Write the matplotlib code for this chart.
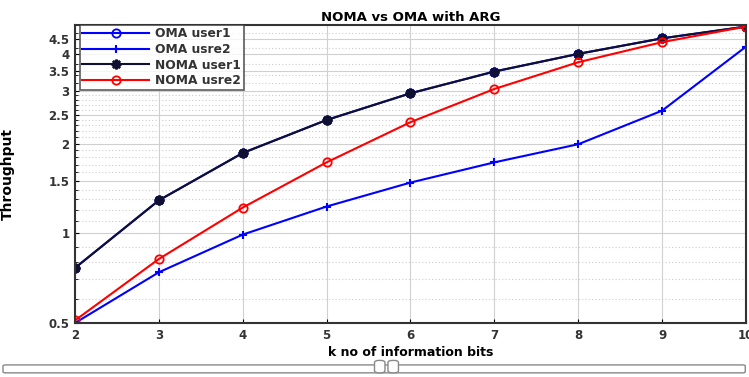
import matplotlib
matplotlib.use("Agg")
import matplotlib.pyplot as plt
import numpy as np
from matplotlib.patches import FancyBboxPatch
from matplotlib.ticker import FixedLocator, NullFormatter, FixedFormatter

k = [2, 3, 4, 5, 6, 7, 8, 9, 10]
oma_user1 = [0.765, 1.29, 1.86, 2.40, 2.95, 3.49, 4.00, 4.51, 4.94]
oma_user2 = [0.50, 0.74, 0.99, 1.23, 1.48, 1.73, 1.99, 2.58, 4.23]
noma_user1 = [0.765, 1.29, 1.86, 2.40, 2.95, 3.49, 4.00, 4.51, 4.94]
noma_user2 = [0.51, 0.82, 1.22, 1.73, 2.36, 3.05, 3.75, 4.38, 4.94]
labels = ["OMA user1", "OMA usre2", "NOMA user1", "NOMA usre2"]
yticks = [0.5, 1, 1.5, 2, 2.5, 3, 3.5, 4, 4.5]
ytick_labels = ["0.5", "1", "1.5", "2", "2.5", "3", "3.5", "4", "4.5"]
yminor = [0.6, 0.7, 0.8, 0.9, 1.1, 1.2, 1.3, 1.4, 1.6, 1.7, 1.8, 1.9,
          2.1, 2.2, 2.3, 2.4, 2.6, 2.7, 2.8, 2.9, 3.2, 3.4, 3.7, 4.2, 4.7]

plt.rcParams['font.family'] = ['DejaVu Sans']
fig = plt.figure(figsize=(7.49, 3.77), dpi=100)
ax = fig.add_axes([0.1001, 0.1432, 0.8959, 0.7905])

ax.plot(k, oma_user1, color='blue', lw=1.5, marker='o', ms=6, mfc='none', mew=1.3, label=labels[0])
ax.plot(k, oma_user2, color='blue', lw=1.5, marker='+', ms=6, mew=1.5, label=labels[1])
ax.plot(k, noma_user1, color='#101030', lw=1.5, marker=(8, 2, 0), ms=7, mew=1.8, label=labels[2])
ax.plot(k, noma_user2, color='red', lw=1.5, marker='o', ms=6, mfc='none', mew=1.3, label=labels[3])

ax.set_yscale('log')
ax.set_ylim(0.5, 5)
ax.set_xlim(2, 10)
ax.set_xticks(k)
ax.yaxis.set_major_locator(FixedLocator(yticks))
ax.yaxis.set_major_formatter(FixedFormatter(ytick_labels))
ax.yaxis.set_minor_locator(FixedLocator(yminor))
ax.yaxis.set_minor_formatter(NullFormatter())

ax.grid(True, which='major', color='#d0d0d0', lw=0.8, ls='-')
ax.grid(True, which='minor', axis='y', color='#cccccc', lw=0.8, ls=(0, (1, 2)))
ax.set_axisbelow(True)
for s in ax.spines.values():
    s.set_linewidth(1.5)
    s.set_color('#333333')
ax.tick_params(axis='both', which='major', labelsize=8.5, direction='in', length=3, pad=4)
ax.tick_params(axis='y', which='minor', direction='in', length=2)
for lab in ax.get_xticklabels() + ax.get_yticklabels():
    lab.set_fontweight('bold')
    lab.set_color('#333333')

ax.set_title("NOMA vs OMA with ARG", fontsize=9.5, fontweight='bold', pad=3)
ax.set_xlabel("k no of information bits", fontsize=9, fontweight='bold', labelpad=3)
ax.set_ylabel("Throughput", fontsize=10, fontweight='bold',
              family=['Liberation Sans Narrow', 'DejaVu Sans'], labelpad=24)

leg = ax.legend(loc='upper left', fontsize=8.8, frameon=True, fancybox=False,
                edgecolor='#333333', borderpad=0.2, labelspacing=0.22,
                handlelength=5.5, handletextpad=0.5, borderaxespad=0.1,
                bbox_to_anchor=(0.005, 1.005))
leg.get_frame().set_linewidth(1.2)
for t in leg.get_texts():
    t.set_fontweight('bold')
    t.set_color('#333333')

# window scrollbar decoration at bottom
bar = FancyBboxPatch((0.004, 0.011), 0.991, 0.021, boxstyle="round,pad=0,rounding_size=0.003",
                     transform=fig.transFigure, facecolor='white', edgecolor='#888888', lw=1.0)
fig.patches.append(bar)
for x0 in (0.500, 0.518):
    bump = FancyBboxPatch((x0, 0.011), 0.014, 0.033, boxstyle="round,pad=0,rounding_size=0.006",
                          transform=fig.transFigure, facecolor='white', edgecolor='#888888', lw=1.0)
    fig.patches.append(bump)

fig.savefig("out.png", dpi=100)
